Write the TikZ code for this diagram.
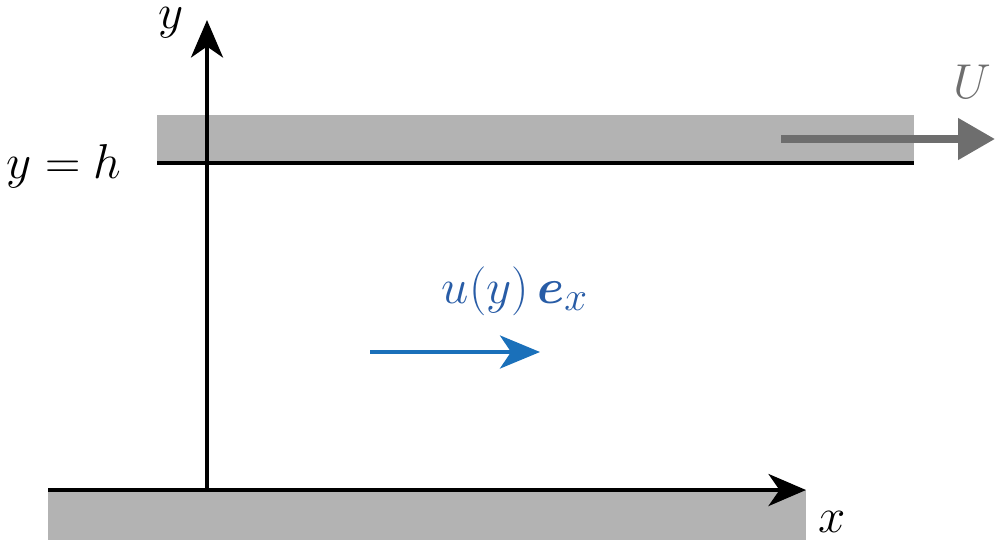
\documentclass[tikz,border=0pt]{standalone}
\usepackage{amsmath,bm}
\usetikzlibrary{arrows.meta}

\definecolor{plategray}{RGB}{179,179,179}
\definecolor{speedgray}{RGB}{110,110,110}
\definecolor{flowblue}{RGB}{26,112,186}
\definecolor{labelblue}{RGB}{40,92,166}

\tikzset{
    plate/.style={fill=plategray, draw=none},
    wall/.style={line width=2.3pt},
    axis/.style={line width=2.3pt, -{Stealth[length=7.5mm, width=6.4mm, inset=2.2mm]}},
    lbl/.style={font=\Huge, scale=1.12, inner sep=0pt},
}

\begin{document}
\begin{tikzpicture}
    \useasboundingbox (0,0) rectangle (19.9,10.84);

    % plates
    \fill[plate] (0.96,0.04) rectangle (16.12,1.04);
    \fill[plate] (3.14,7.58) rectangle (18.28,8.54);

    % named points
    \coordinate (xstart) at (0.96,1.04);
    \coordinate (xend) at (16.12,1.04);
    \coordinate (origin) at (4.14,1.04);
    \coordinate (yend) at (4.14,10.44);
    \coordinate (wallL) at (3.14,7.58);
    \coordinate (wallR) at (18.28,7.58);
    \coordinate (Ustart) at (15.62,8.06);
    \coordinate (Uend) at (19.9,8.06);
    \coordinate (ustart) at (7.4,3.8);
    \coordinate (uend) at (10.8,3.8);

    % axes and moving wall
    \draw[wall] (wallL) -- (wallR);
    \draw[axis] (xstart) -- (xend);
    \draw[axis] (origin) -- (yend);

    % wall velocity and flow
    \draw[line width=4.5pt, speedgray, -{Stealth[length=7.4mm, width=8mm, inset=0mm]}] (Ustart) -- (Uend);
    \draw[line width=2.3pt, flowblue, -{Stealth[length=8mm, width=6.6mm, inset=2.2mm]}] (ustart) -- (uend);

    % labels
    \node[lbl] (xlab) at (16.64,0.4) {$x$};
    \node[lbl] (ylab) at (3.42,10.38) {$y$};
    \node[lbl] (hlab) at (1.28,7.52) {$y=h$};
    \node[lbl, text=speedgray] (Ulab) at (19.44,9.2) {$U$};
    \node[lbl, text=labelblue] (ulab) at (10.3,5.02) {$u(y)\,\bm{e}_x$};
\end{tikzpicture}
\end{document}
